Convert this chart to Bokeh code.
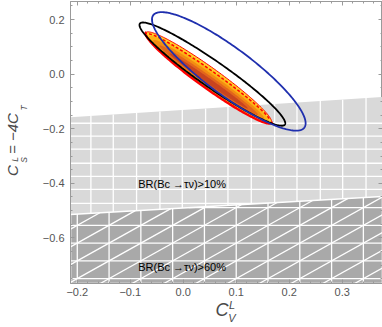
import numpy as np
from bokeh.plotting import figure
from bokeh.models import Range1d, FixedTicker, ColumnDataSource, LinearAxis
from bokeh.core.properties import value
from bokeh.embed import file_html
from bokeh.resources import INLINE

# ---------------- data ----------------
x_ticks = [-0.2, -0.1, 0.0, 0.1, 0.2, 0.3]
x_tick_labels = ["\u22120.2", "\u22120.1", "0.0", "0.1", "0.2", "0.3"]
y_ticks = [-0.6, -0.4, -0.2, 0.0, 0.2]
y_tick_labels = ["\u22120.6", "\u22120.4", "\u22120.2", "0.0", "0.2"]
x_minor = [round(-0.2 + 0.02 * i, 3) for i in range(29)]
y_minor = [round(-0.75 + 0.05 * i, 3) for i in range(21)]

XMIN, XMAX = -0.2128, 0.3761
YMIN, YMAX = -0.767, 0.266

# excluded-region upper edges (value at left and right border)
light_edge_y = [-0.158, -0.084]
dark_edge_y = [-0.514, -0.448]

# mesh lines of the shaded regions
light_mesh_x = [-0.1743, -0.1321, -0.0881, -0.0440, -0.0018, 0.0422, 0.0844,
                0.1284, 0.1725, 0.2147, 0.2587, 0.3009, 0.3450]
light_mesh_y = [-0.180, -0.2275, -0.275, -0.3266, -0.3743, -0.422, -0.4734]
dark_mesh_x = [-0.20, -0.14, -0.08, -0.02, 0.04, 0.10, 0.16, 0.22, 0.28, 0.34]
dark_mesh_y = [-0.749, -0.684, -0.619, -0.554, -0.489]

# contours: centre, semi-diameter to right-most point, vertical half thickness
blue_center, blue_axis, blue_half = (0.086, 0.01), (0.145, -0.19), 0.105
black_center, black_axis, black_half = (0.055, 0.0), (0.1376, -0.180), 0.058
fit_center, fit_axis, fit_half = (0.048, -0.013), (0.119, -0.1615), 0.046

# density levels of the fit region: (axis scale, thickness scale, colour)
density_levels = [
    (1.00, 1.00, "#FFD22A"),
    (0.95, 0.80, "#FCB216"),
    (0.88, 0.60, "#F38C12"),
    (0.78, 0.42, "#E2651C"),
    (0.62, 0.25, "#C8441F"),
]

br_text = ["BR(Bc \u2192\u03c4\u03bd)>10%", "BR(Bc \u2192\u03c4\u03bd)>60%"]
br_x = [-0.085, -0.085]
br_y = [-0.404, -0.705]

# axis titles (pieces with spacing)
x_title = "C\u2002"
x_title_scripts = "\u2003L\n\u2003V"
y_title = "C\u2002\u2005=\u2008\u22124C\u2008"
y_title_sup = "L\u2003\u2003\u2003\u2003"
y_title_sub = "\u2003\u2003S\u2003\u2003\u2003\u2003\u2003\u2002T"


def ellipse(c, a, h, t):
    t = np.asarray(t)
    return c[0] + a[0] * np.cos(t), c[1] + a[1] * np.cos(t) + h * np.sin(t)


def edge(e, x):
    return e[0] + (e[1] - e[0]) * (x - XMIN) / (XMAX - XMIN)


p = figure(width=382, height=327, x_range=Range1d(XMIN, XMAX),
           y_range=Range1d(YMIN, YMAX), output_backend="svg",
           toolbar_location=None, min_border_left=61, min_border_right=0,
           min_border_top=1, min_border_bottom=44)
p.grid.visible = False
p.outline_line_color = "#9a9a9a"
p.background_fill_color = "white"
p.border_fill_color = "white"

# light region
p.patch([XMIN, XMAX, XMAX, XMIN], [light_edge_y[0], light_edge_y[1], YMIN, YMIN],
        fill_color="#d9d9d9", line_color=None)
xs, ys = [], []
for x in light_mesh_x:
    xs.append([x, x]); ys.append([YMIN, edge(light_edge_y, x)])
for y in light_mesh_y:
    xs.append([XMIN, XMAX]); ys.append([y, y])
p.multi_line(xs, ys, line_color="white", line_width=1.3)

# dark region
p.patch([XMIN, XMAX, XMAX, XMIN], [dark_edge_y[0], dark_edge_y[1], YMIN, YMIN],
        fill_color="#a9a9a9", line_color="white", line_width=1.6)
xs, ys = [], []
for x in dark_mesh_x:
    xs.append([x, x]); ys.append([YMIN, edge(dark_edge_y, x)])
mb = (dark_edge_y[1] - dark_edge_y[0]) / (XMAX - XMIN)
for y in dark_mesh_y:
    x0 = XMIN if y <= dark_edge_y[0] else XMIN + (y - dark_edge_y[0]) / mb
    xs.append([x0, XMAX]); ys.append([y, y])
dy = dark_mesh_y[1] - dark_mesh_y[0]
dx = dark_mesh_x[1] - dark_mesh_x[0]
k = dy / dx
b0 = dark_mesh_y[0] - k * dark_mesh_x[0]
for n in range(-30, 30):
    b = b0 + n * dy
    lo = max(XMIN, (YMIN - b) / k)
    hi = min(XMAX, (dark_edge_y[0] - mb * XMIN - b) / (k - mb))
    if lo < hi:
        xs.append([lo, hi]); ys.append([k * lo + b, k * hi + b])
p.multi_line(xs, ys, line_color="white", line_width=1.3)

# labels in the regions
src = ColumnDataSource(dict(x=br_x, y=br_y, t=br_text))
p.text("x", "y", text="t", source=src, text_font=value("Liberation Sans"),
       text_font_size="11px", text_baseline="middle", text_color="black")

# fit density
t = np.linspace(0, 2 * np.pi, 240)
for sa, sh, col in density_levels:
    shift = (1 - sh) * fit_half * 0.35
    c = (fit_center[0], fit_center[1] - shift)
    ex, ey = ellipse(c, (fit_axis[0] * sa, fit_axis[1] * sa), fit_half * sh, t)
    p.patch(ex, ey, fill_color=col, line_color=None)
ex, ey = ellipse(fit_center, fit_axis, fit_half, t)
p.line(ex, ey, line_color="red", line_width=1.0)
tl = np.linspace(np.pi * 0.95, 2 * np.pi, 120)
ex, ey = ellipse(fit_center, fit_axis, fit_half, tl)
p.line(ex, ey, line_color="red", line_width=2.4)
tu = np.linspace(0.15, np.pi - 0.1, 120)
ex, ey = ellipse(fit_center, (fit_axis[0] * 0.97, fit_axis[1] * 0.97), fit_half * 0.72, tu)
p.line(ex, ey, line_color="red", line_width=1.5, line_dash="3 2")

# contours
ex, ey = ellipse(black_center, black_axis, black_half, t)
p.line(ex, ey, line_color="black", line_width=1.8)
ex, ey = ellipse(blue_center, blue_axis, blue_half, t)
p.line(ex, ey, line_color="#1f2fae", line_width=1.8)

GRAY = "#9a9a9a"
FONT = "Liberation Sans"
TITLE_COLOR = "#4a4a4a"


def style_ticks(ax):
    ax.major_tick_in = 4
    ax.major_tick_out = 0
    ax.minor_tick_in = 2
    ax.minor_tick_out = 0
    ax.axis_line_color = GRAY
    ax.major_tick_line_color = GRAY
    ax.minor_tick_line_color = GRAY


# main axes
for ax, ticks, labels, minor, standoff in (
        (p.xaxis[0], x_ticks, x_tick_labels, x_minor, 4),
        (p.yaxis[0], y_ticks, y_tick_labels, y_minor, 6)):
    ax.ticker = FixedTicker(ticks=ticks, minor_ticks=minor)
    ax.major_label_overrides = {tv: lab for tv, lab in zip(ticks, labels)}
    style_ticks(ax)
    ax.major_label_text_color = "#555555"
    ax.major_label_text_font = FONT
    ax.major_label_text_font_size = "11px"
    ax.major_label_standoff = standoff

xa = p.xaxis[0]
xa.axis_label = x_title
xa.axis_label_text_font = FONT
xa.axis_label_text_font_style = "italic"
xa.axis_label_text_color = TITLE_COLOR
xa.axis_label_text_font_size = "18px"
xa.axis_label_standoff = 1

# mirrored tick marks on top / right
for ticks, minor, side in ((x_ticks, x_minor, "above"), (y_ticks, y_minor, "right")):
    ax = LinearAxis(ticker=FixedTicker(ticks=ticks, minor_ticks=minor),
                    major_label_overrides={tv: "" for tv in ticks},
                    major_label_text_font_size="0px", major_label_standoff=0)
    style_ticks(ax)
    p.add_layout(ax, side)


def title_axis(text, size, standoff, lh=1.2):
    return LinearAxis(ticker=FixedTicker(ticks=[0.0]), major_label_overrides={0.0: ""},
                      major_label_text_font_size="0px", major_label_standoff=0,
                      major_tick_in=0, major_tick_out=0, minor_tick_in=0, minor_tick_out=0,
                      axis_line_color=None, axis_label=text,
                      axis_label_text_font=FONT, axis_label_text_font_style="italic",
                      axis_label_text_font_size=size, axis_label_text_color=TITLE_COLOR,
                      axis_label_standoff=standoff, axis_label_text_line_height=lh)


# x title scripts (stacked super/subscript)
p.add_layout(title_axis(x_title_scripts, "11px", -24, 1.09), "below")
# y title: subscripts, superscript, main text (stacked outward)
p.add_layout(title_axis(y_title_sub, "8.5px", 11), "left")
p.add_layout(title_axis(y_title_sup, "8.5px", -4), "left")
p.add_layout(title_axis(y_title, "15px", -14), "left")

open("out.html", "w").write(file_html(p, INLINE))
